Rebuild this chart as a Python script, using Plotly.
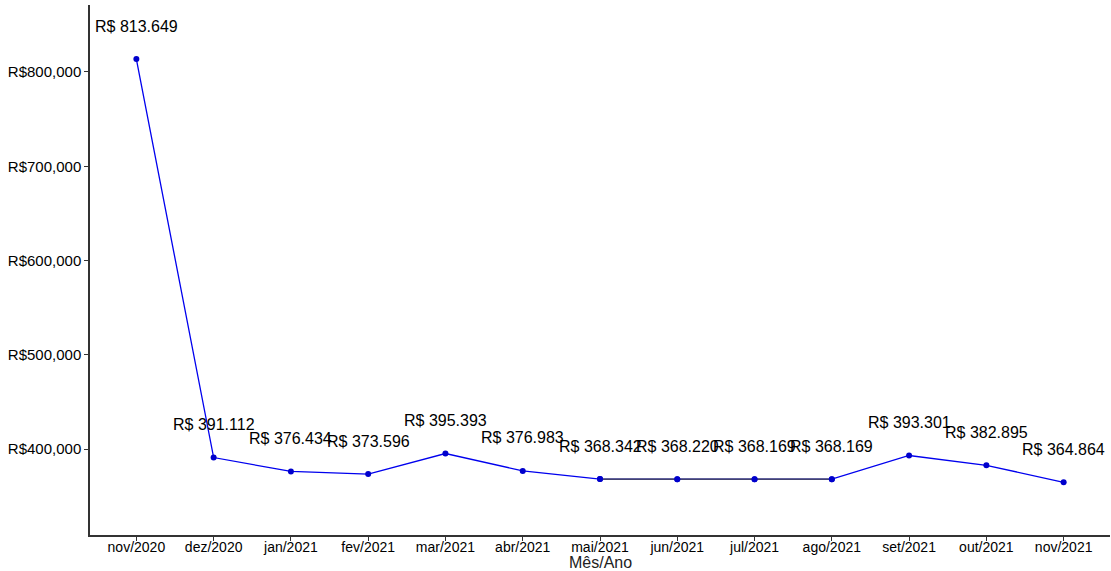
import plotly.graph_objects as go

meses = ["nov/2020", "dez/2020", "jan/2021", "fev/2021", "mar/2021", "abr/2021",
         "mai/2021", "jun/2021", "jul/2021", "ago/2021", "set/2021", "out/2021", "nov/2021"]
valores = [813649, 391112, 376434, 373596, 395393, 376983,
           368342, 368220, 368169, 368169, 393301, 382895, 364864]
rotulos = ["R$ 813.649", "R$ 391.112", "R$ 376.434", "R$ 373.596", "R$ 395.393", "R$ 376.983",
           "R$ 368.342", "R$ 368.220", "R$ 368.169", "R$ 368.169", "R$ 393.301", "R$ 382.895", "R$ 364.864"]
y_ticks = [400000, 500000, 600000, 700000, 800000]

fig = go.Figure()

fig.add_trace(go.Scatter(
    x=meses, y=valores, mode="lines+markers",
    line=dict(color="#0000ee", width=1.3),
    marker=dict(color="#0000cc", size=6),
    showlegend=False, hoverinfo="x+y", cliponaxis=False,
))
# flat stretch renders darker in the original
fig.add_trace(go.Scatter(
    x=meses[6:10], y=valores[6:10], mode="lines+markers",
    line=dict(color="#444444", width=1.3),
    marker=dict(color="#0000cc", size=6),
    showlegend=False, hoverinfo="skip", cliponaxis=False,
))

for m, v, t in zip(meses, valores, rotulos):
    fig.add_annotation(x=m, y=v, text=t, showarrow=False, yshift=33,
                       font=dict(size=16, color="black"))

fig.add_annotation(x=0.5, y=0, xref="paper", yref="paper", yshift=-27,
                   text="Mês/Ano", showarrow=False, yanchor="middle",
                   font=dict(size=16, color="#222"))

axis_common = dict(
    showline=True, linecolor="#333333", linewidth=1.5,
    ticks="outside", ticklen=4, tickcolor="#333333",
    showgrid=False, zeroline=False, automargin=False,
)

fig.update_layout(
    width=1111, height=571,
    plot_bgcolor="white", paper_bgcolor="white",
    font=dict(family="Liberation Sans, Arial, sans-serif"),
    margin=dict(l=90, r=1, t=5, b=36),
    xaxis=dict(**axis_common, range=[-0.6, 12.6], ticklabelstandoff=-6,
               tickfont=dict(size=14, color="black")),
    yaxis=dict(
        **axis_common,
        range=[309000, 871000],
        tickvals=y_ticks,
        ticktext=[f"R${v:,}" for v in y_ticks],
        tickfont=dict(size=15, color="black"),
    ),
)

fig.write_html("out.html", config={"displayModeBar": False},
               post_script="document.body.style.margin='0';")
